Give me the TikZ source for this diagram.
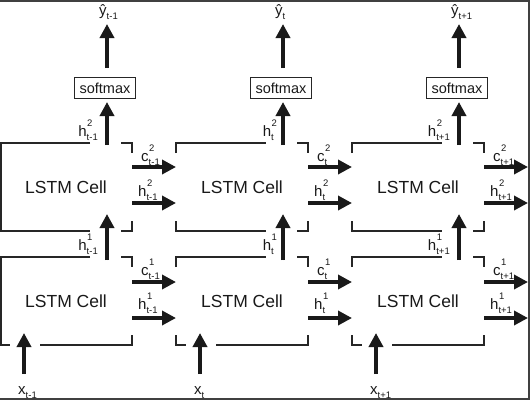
\documentclass[tikz,border=0pt]{standalone}
\usepackage{fontspec}
\setmainfont{Liberation Sans}
\usetikzlibrary{arrows.meta}
\newcommand{\lab}[3]{#1\rlap{\raisebox{10pt}{\fontsize{9.5}{9.5}\selectfont\hspace{0.5pt}#2}}\raisebox{-4pt}{\fontsize{9.5}{9.5}\selectfont #3}}
\newcommand{\sublab}[2]{#1\raisebox{-4pt}{\fontsize{9.5}{9.5}\selectfont #2}}
\begin{document}
\begin{tikzpicture}[x=1pt,y=-1pt,
  cellline/.style={line width=1.3pt, draw=black!85},
  arr/.style={line width=3.8pt, -{Triangle[width=14pt,length=14pt]}, draw=black!90, fill=black!90},
  cellbox/.style={minimum width=132pt, minimum height=88pt, inner sep=0pt, text=black!90, font=\fontsize{17.5}{20}\selectfont},
  smbox/.style={draw=black!85, line width=1.2pt, minimum width=61pt, minimum height=21pt, inner sep=0pt, text=black!90, font=\fontsize{14.5}{17}\selectfont},
  lbl/.style={inner sep=0pt, text=black!90, font=\fontsize{15}{17}\selectfont},
  frameline/.style={line width=2pt, draw=black!75}
]
\useasboundingbox (0,0) rectangle (530,400);
\draw[frameline] (0,1) -- (529,1) -- (529,399) -- (0,399);
\foreach \i/\L/\s in {1/0/t-1, 2/176/t, 3/352/t+1} {
  % cells
  \node[cellbox] (upper\i) at (\L+66,187) {LSTM Cell};
  \node[cellbox] (lower\i) at (\L+66,301) {LSTM Cell};
  \ifnum\i=1
    \draw[cellline] (\L+90,143) -- (\L+1,143) -- (\L+1,231) -- (\L+90,231);
    \draw[cellline] (\L+90,257) -- (\L+1,257) -- (\L+1,345) -- (\L+10,345);
  \else
    \draw[cellline] (\L,153) -- (\L,143) -- (\L+90,143);
    \draw[cellline] (\L,221) -- (\L,231) -- (\L+90,231);
    \draw[cellline] (\L,267) -- (\L,257) -- (\L+90,257);
    \draw[cellline] (\L,335) -- (\L,345) -- (\L+10,345);
  \fi
  \draw[cellline] (\L+121,143) -- (\L+132,143) -- (\L+132,153);
  \draw[cellline] (\L+121,231) -- (\L+132,231) -- (\L+132,221);
  \draw[cellline] (\L+121,257) -- (\L+132,257) -- (\L+132,267);
  \draw[cellline] (\L+40,345) -- (\L+132,345) -- (\L+132,335);
  % softmax and vertical arrows
  \node[smbox] (sm\i) at (\L+105,88) {softmax};
  \coordinate (ut\i) at (\L+107,145);
  \coordinate (st\i) at (\L+107,102);
  \coordinate (ot\i) at (\L+107,68);
  \coordinate (yo\i) at (\L+107,24);
  \coordinate (ms\i) at (\L+107,260);
  \coordinate (me\i) at (\L+107,214);
  \coordinate (is\i) at (\L+24,374);
  \coordinate (ie\i) at (\L+24,333);
  \draw[arr] (ut\i) -- (st\i);
  \draw[arr] (ot\i) -- (yo\i);
  \draw[arr] (ms\i) -- (me\i);
  \draw[arr] (is\i) -- (ie\i);
  % horizontal arrows
  \coordinate (ca\i) at (\L+132,167);
  \coordinate (cb\i) at (\L+176,167);
  \coordinate (ha\i) at (\L+132,203);
  \coordinate (hb\i) at (\L+176,203);
  \coordinate (da\i) at (\L+132,282);
  \coordinate (db\i) at (\L+176,282);
  \coordinate (ga\i) at (\L+132,318);
  \coordinate (gb\i) at (\L+176,318);
  \draw[arr] (ca\i) -- (cb\i);
  \draw[arr] (ha\i) -- (hb\i);
  \draw[arr] (da\i) -- (db\i);
  \draw[arr] (ga\i) -- (gb\i);
  % labels
  \node[lbl, anchor=base west] (c2l\i) at (\L+141,161) {\lab{c}{2}{\s}};
  \node[lbl, anchor=base west] (h2l\i) at (\L+138,196) {\lab{h}{2}{\s}};
  \node[lbl, anchor=base west] (c1l\i) at (\L+141,275) {\lab{c}{1}{\s}};
  \node[lbl, anchor=base west] (h1l\i) at (\L+138,309) {\lab{h}{1}{\s}};
  \node[lbl, anchor=base east] (hv2\i) at (\L+98,136) {\lab{h}{2}{\s}};
  \node[lbl, anchor=base east] (hv1\i) at (\L+98,250) {\lab{h}{1}{\s}};
  \node[lbl, anchor=base west] (yl\i) at (\L+99,15) {\sublab{ŷ}{\s}};
  \node[lbl, anchor=base west] (xl\i) at (\L+18,394) {\sublab{x}{\s}};
}
\end{tikzpicture}
\end{document}
